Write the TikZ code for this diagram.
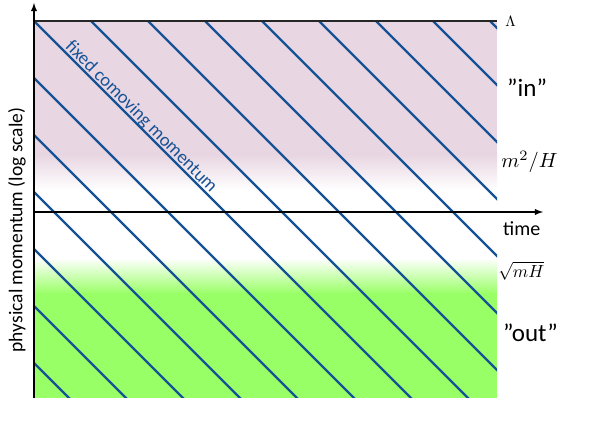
\documentclass[tikz,border=0pt]{standalone}
\usepackage{fontspec}
\setmainfont{Carlito}
\usepackage{xcolor}
\usetikzlibrary{arrows, positioning, calc}
\definecolor{inpink}{RGB}{232,214,226}
\definecolor{outgreen}{RGB}{153,255,102}
\definecolor{modeblue}{RGB}{22,82,150}

\begin{document}
\begin{tikzpicture}[x=1pt, y=-1pt,
    mode/.style={draw=modeblue, line width=2.2pt},
    axis/.style={line width=1.8pt},
    lbl/.style={anchor=base west, inner sep=0pt}]
      \useasboundingbox (0,0) rectangle (589,427);

      % in and out regions
      \fill[inpink] (34,21) rectangle (497,156);
      \shade[top color=inpink, bottom color=white] (34,155) rectangle (497,190);
      \shade[top color=white, bottom color=outgreen] (34,258) rectangle (497,294);
      \fill[outgreen] (34,293) rectangle (497,398);

      % lines of fixed comoving momentum
      \begin{scope}
        \clip (34,21) rectangle (497,398);
        \foreach \i in {-6,...,8}
          \draw[mode] (34+57*\i-400,21-400) -- ++(800,800);
      \end{scope}

      \coordinate (orig) at (34,398);
      \coordinate (ptop) at (34,3);
      \coordinate (cutL) at (34,21);
      \coordinate (cutR) at (497,21);
      \coordinate (tL) at (34,212);
      \coordinate (tR) at (543,212);

      \draw[axis, black!85] (cutL) -- (cutR);
      \draw[axis, -latex] (tL) -- (tR);
      \draw[axis, -latex] (orig) -- (ptop);

      \node[rotate=90, font=\fontsize{19.5}{22}\selectfont] (plabel) at (17,230) {physical momentum (log scale)};
      \node[rotate=-45, text=modeblue, font=\fontsize{18.5}{22}\selectfont] (klabel) at (141,117) {fixed comoving momentum};

      \node[lbl, scale=1.5] (lam) at (505,27) {$\Lambda$};
      \node[lbl, font=\fontsize{25}{27}\selectfont] (in) at (507,97) {”in”};
      \node[lbl, scale=2.05] (mh) at (501,168) {$m^2/H$};
      \node[lbl, font=\fontsize{20}{22}\selectfont] (time) at (503,236) {time};
      \node[lbl, scale=1.75] (smh) at (498,278) {$\sqrt{mH}$};
      \node[lbl, font=\fontsize{25}{27}\selectfont] (out) at (503,342) {”out”};

    \end{tikzpicture}
\end{document}
